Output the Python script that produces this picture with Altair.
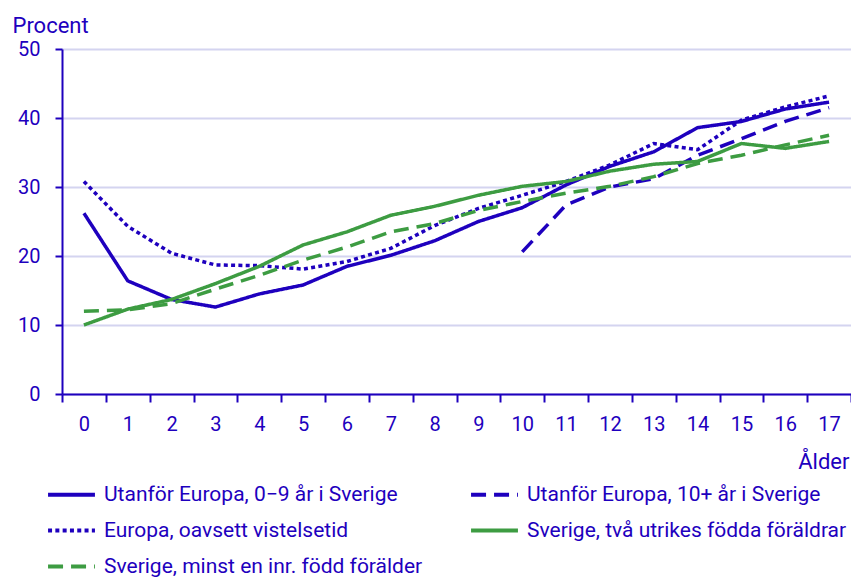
import altair as alt
import pandas as pd

ages = list(range(18))
series_names = [
    "Utanför Europa, 0−9 år i Sverige",
    "Utanför Europa, 10+ år i Sverige",
    "Europa, oavsett vistelsetid",
    "Sverige, två utrikes födda föräldrar",
    "Sverige, minst en inr. född förälder",
]
utanfor_0_9 = [26.2, 16.4, 13.7, 12.6, 14.5, 15.8, 18.5, 20.1, 22.2, 25.0, 27.0, 30.3, 33.0, 35.1, 38.6, 39.5, 41.3, 42.3]
utanfor_10 = [None] * 10 + [20.6, 27.4, 30.0, 31.2, 34.6, 37.0, 39.5, 41.5]
europa = [30.8, 24.3, 20.4, 18.7, 18.6, 18.1, 19.2, 21.1, 24.4, 26.9, 28.8, 30.8, 33.2, 36.3, 35.4, 39.7, 41.6, 43.2]
sverige_tva = [10.0, 12.3, 13.7, 16.0, 18.5, 21.6, 23.5, 25.9, 27.2, 28.8, 30.1, 30.8, 32.3, 33.3, 33.7, 36.3, 35.6, 36.6]
sverige_minst = [12.0, 12.2, 13.1, 15.2, 17.2, 19.4, 21.3, 23.5, 24.7, 26.6, 27.9, 29.1, 30.1, 31.5, 33.4, 34.6, 36.1, 37.5]

all_values = [utanfor_0_9, utanfor_10, europa, sverige_tva, sverige_minst]
rows = []
for name, vals in zip(series_names, all_values):
    for a, v in zip(ages, vals):
        if v is not None:
            rows.append({"Ålder": a, "Procent": v, "Grupp": name})
df = pd.DataFrame(rows)

BLUE = "#1e00be"
GREEN = "#3d9c42"
GRID = "#d4d4f0"
FONT = "Roboto"

chart = (
    alt.Chart(df)
    .mark_line(strokeWidth=3.5, strokeCap="butt")
    .encode(
        x=alt.X(
            "Ålder:O",
            sort=ages,
            scale=alt.Scale(type="band", paddingInner=0, paddingOuter=0),
            axis=alt.Axis(
                title="Ålder",
                titleX=787,
                titleY=74,
                titleAlign="right",
                titleBaseline="alphabetic",
                titleFontSize=22,
                titleFontWeight="normal",
                titleColor=BLUE,
                titleFont=FONT,
                labelAngle=0,
                labelFontSize=20,
                labelColor=BLUE,
                labelFont=FONT,
                labelPadding=12,
                tickBand="extent",
                tickSize=8,
                tickColor=BLUE,
                tickWidth=2,
                domainColor=BLUE,
                domainWidth=2,
                grid=False,
            ),
        ),
        y=alt.Y(
            "Procent:Q",
            scale=alt.Scale(domain=[0, 50]),
            axis=alt.Axis(
                title="Procent",
                titleAngle=0,
                titleX=-50,
                titleY=-17,
                titleAlign="left",
                titleBaseline="alphabetic",
                titleFontSize=22,
                titleFontWeight="normal",
                titleColor=BLUE,
                titleFont=FONT,
                values=[0, 10, 20, 30, 40, 50],
                labelFontSize=20,
                labelColor=BLUE,
                labelFont=FONT,
                labelPadding=15,
                tickSize=7,
                tickColor=BLUE,
                tickWidth=2,
                domainColor=BLUE,
                domainWidth=2,
                grid=True,
                gridColor=GRID,
                gridWidth=2,
            ),
        ),
        color=alt.Color(
            "Grupp:N",
            sort=series_names,
            scale=alt.Scale(domain=series_names, range=[BLUE, BLUE, BLUE, GREEN, GREEN]),
            legend=alt.Legend(title=None),
        ),
        strokeDash=alt.StrokeDash(
            "Grupp:N",
            sort=series_names,
            scale=alt.Scale(domain=series_names, range=[[1, 0], [15, 8], [4, 3.3], [1, 0], [15, 8]]),
            legend=alt.Legend(title=None),
        ),
    )
    .properties(
        width=789,
        height=345,
        padding={"left": 54, "top": 41, "right": 0, "bottom": 183},
        autosize=alt.AutoSizeParams(type="none"),
    )
    .configure_view(stroke=None)
    .configure_legend(
        orient="none",
        direction="horizontal",
        legendX=-16,
        legendY=420,
        columns=2,
        columnPadding=40,
        rowPadding=0,
        symbolType="stroke",
        symbolSize=2200,
        symbolStrokeWidth=4,
        labelFontSize=21,
        labelColor=BLUE,
        labelFont=FONT,
        labelOffset=7,
        labelLimit=600,
        padding=0,
    )
)

chart.save("out.html", embed_options={"renderer": "svg", "actions": False})
